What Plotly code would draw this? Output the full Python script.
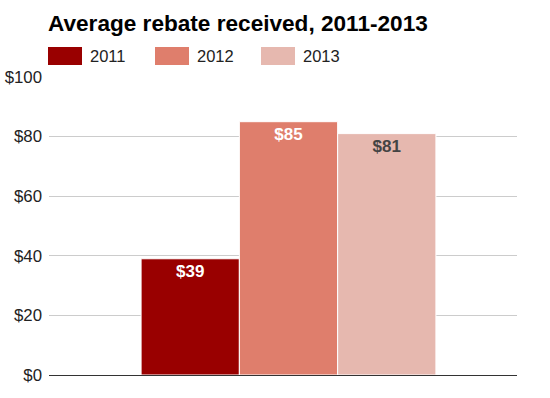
import plotly.graph_objects as go

# Data
category = ["Average rebate"]
years = ["2011", "2012", "2013"]
rebates = [39, 85, 81]
colors = ["#990000", "#DF7E6C", "#E6B8AF"]
label_colors = ["#FFFFFF", "#FFFFFF", "#444444"]
y_ticks = [0, 20, 40, 60, 80, 100]
y_tick_labels = ["$0", "$20", "$40", "$60", "$80", "$100"]
title_text = "Average rebate received, 2011-2013"

W, H = 550, 398
L, R, T, B = 49, 33, 77, 23
PW, PH = W - L - R, H - T - B

def px(x):
    return (x - L) / PW

def py(y):
    return (H - B - y) / PH

fig = go.Figure()
for yr, val, col, lc in zip(years, rebates, colors, label_colors):
    fig.add_trace(go.Bar(
        x=category, y=[val], name=yr,
        marker=dict(color=col, line=dict(color="white", width=1)),
        texttemplate="$%{y}", textposition="inside", insidetextanchor="end",
        textfont=dict(family="Liberation Sans", size=17, color=lc, weight="bold"),
        textangle=0, constraintext="none",
        showlegend=False, hoverinfo="skip",
    ))

# custom legend (large swatches)
leg_x = [48, 155, 261]
shapes = []
annotations = []
for i, (yr, col) in enumerate(zip(years, colors)):
    x0 = leg_x[i]
    shapes.append(dict(type="rect", xref="paper", yref="paper",
                       x0=px(x0), x1=px(x0 + 34), y0=py(65), y1=py(47),
                       fillcolor=col, line=dict(width=0)))
    annotations.append(dict(xref="paper", yref="paper", x=px(x0 + 40), y=py(56),
                            text=yr, showarrow=False, xanchor="left", yanchor="middle",
                            font=dict(family="Liberation Sans", size=16.5, color="#222222")))

annotations.append(dict(xref="paper", yref="paper", x=px(46), y=py(38),
                        text="<b>" + title_text + "</b>", showarrow=False,
                        xanchor="left", yanchor="bottom",
                        font=dict(family="Liberation Sans", size=22.6, color="#000000")))

shift = 5.5 / PW  # group sits slightly right of centre in the reference

fig.update_layout(
    width=W, height=H,
    margin=dict(l=L, r=R, t=T, b=B, pad=0, autoexpand=False),
    paper_bgcolor="white", plot_bgcolor="white",
    barmode="group", bargap=0.37, bargroupgap=0,
    shapes=shapes, annotations=annotations,
    xaxis=dict(showticklabels=False, showgrid=False, zeroline=False, showline=False, ticks="",
               automargin=False, range=[-0.5 - shift, 0.5 - shift]),
    yaxis=dict(range=[0, 100], tickvals=y_ticks, ticktext=y_tick_labels,
               showgrid=True, gridcolor="#CCCCCC", gridwidth=1,
               zeroline=True, zerolinecolor="#333333", zerolinewidth=1,
               showline=False, ticks="", ticklabelstandoff=6, automargin=False,
               tickfont=dict(family="Liberation Sans", size=16.8, color="#222222")),
    font=dict(family="Liberation Sans"),
)

fig.write_html("out.html", config={"displayModeBar": False, "staticPlot": True})

# remove default browser body margin so the figure sits at the page origin
with open("out.html", "r", encoding="utf-8") as f:
    html = f.read()
html = html.replace("<body>", '<body style="margin:0;padding:0;overflow:hidden">', 1)
with open("out.html", "w", encoding="utf-8") as f:
    f.write(html)
